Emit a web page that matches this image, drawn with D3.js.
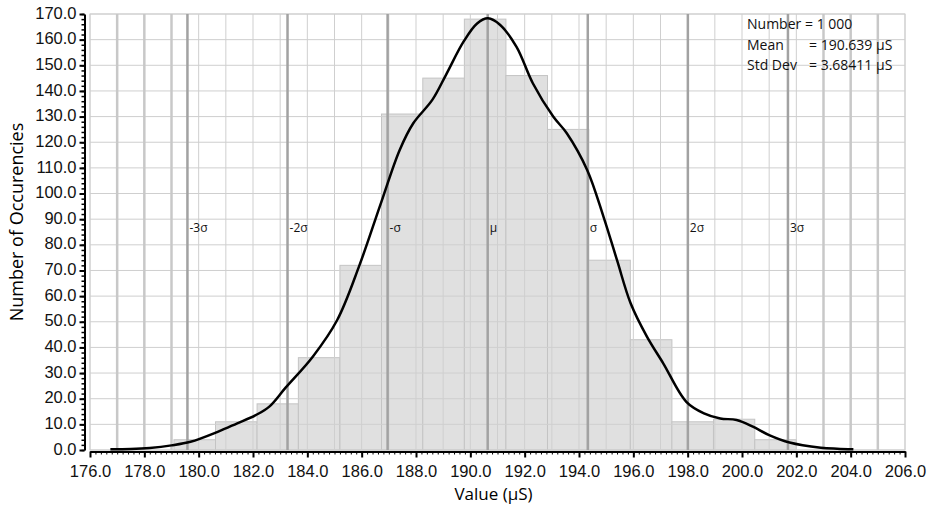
<!DOCTYPE html>
<html lang="en">
<head>
    <script src="https://d3js.org/d3.v7.min.js"></script>
    <style>
        body {
            margin: 0;
            font-family: 'Open Sans', Arial, sans-serif;
            background: #fff;
        }
        .axis text {
            font-size: 16.5px;
            fill: #111;
        }
        .axis path, .axis line {
            stroke: #000;
        }
        .bar {
            fill: #e0e0e0;
            stroke: #c4c4c4;
            stroke-width: 1px;
        }
        .grid line {
            stroke: #cfcfcf;
            stroke-width: 1px;
        }
        .sig-label {
            font-size: 12px;
            fill: #111;
        }
        .stats {
            font-size: 14px;
            fill: #111;
        }
    </style>
</head>
<body>
<script>
    // histogram bin edges and counts (1000 samples)
    var binEdges = [179.09, 180.62, 182.15, 183.67, 185.20, 186.73, 188.25, 189.78,
                    191.31, 192.84, 194.36, 195.89, 197.42, 198.95, 200.47, 202.00];
    var binCounts = [4, 11, 18, 36, 72, 131, 145, 168, 146, 125, 74, 43, 11, 12, 4];

    // density curve
    var curveX = [176.75, 177.5, 178.2, 179.0, 179.7, 180.7, 181.4, 182.1, 182.6, 183.2, 184.2,
                  185.1, 185.9, 186.7, 187.4, 187.9, 188.6, 189.1, 189.75, 190.25, 190.65,
                  191.1, 191.7, 192.3, 193.05, 193.55, 194.3, 194.9, 195.4, 195.9, 196.5,
                  197.1, 197.95, 198.6, 199.2, 199.8, 200.4, 201.0, 201.75, 202.9, 203.5, 204.1];
    var curveY = [0.3, 0.4, 0.8, 1.8, 3.2, 7.1, 10.3, 13.6, 16.9, 24.3, 36.4,
                  50.7, 71.5, 96.0, 117.0, 127.4, 136.5, 146.2, 159.2, 166.3, 168.3,
                  165.7, 157.2, 143.0, 130.0, 123.5, 109.2, 91.0, 74.0, 57.2, 44.2,
                  33.8, 18.8, 14.3, 12.3, 11.7, 9.1, 5.8, 2.9, 0.9, 0.5, 0.3];

    var mean = 190.639;
    var stdDev = 3.68411;
    var sigmaK = [-3, -2, -1, 0, 1, 2, 3];
    var sigmaNames = ["-3σ", "-2σ", "-σ", "μ", "σ", "2σ", "3σ"];

    // light limit lines outside the data range
    var limitLines = [177, 178, 179, 203, 204, 205];

    var statLabels = ["Number", "Mean", "Std Dev"];
    var statValues = ["= 1 000", "= 190.639 µS", "= 3.68411 µS"];

    var xTicks = d3.range(176, 206.01, 2);
    var yTicks = d3.range(0, 170.01, 10);

    var W = 933, H = 508;
    var plot = {left: 90, right: 905, top: 14, bottom: 450};

    var svg = d3.select("body").append("svg")
        .attr("width", W)
        .attr("height", H);

    var x = d3.scaleLinear().domain([176, 206]).range([plot.left, plot.right]);
    var y = d3.scaleLinear().domain([0, 170]).range([plot.bottom, plot.top]);

    // plot frame
    svg.append("rect")
        .attr("x", plot.left).attr("y", plot.top)
        .attr("width", plot.right - plot.left)
        .attr("height", plot.bottom - plot.top)
        .attr("fill", "#fff")
        .attr("stroke", "#cfcfcf");

    // bars
    svg.selectAll(".bar")
        .data(binCounts)
        .enter().append("rect")
        .attr("class", "bar")
        .attr("x", function(d, i) { return x(binEdges[i]); })
        .attr("y", function(d) { return y(d); })
        .attr("width", function(d, i) { return x(binEdges[i + 1]) - x(binEdges[i]); })
        .attr("height", function(d) { return y(0) - y(d); });

    // grid on top of bars
    var grid = svg.append("g").attr("class", "grid");
    grid.selectAll(".gx")
        .data(d3.range(176, 206.01, 1))
        .enter().append("line")
        .attr("x1", function(d) { return x(d); })
        .attr("x2", function(d) { return x(d); })
        .attr("y1", plot.top).attr("y2", plot.bottom);
    grid.selectAll(".gy")
        .data(yTicks)
        .enter().append("line")
        .attr("x1", plot.left).attr("x2", plot.right)
        .attr("y1", function(d) { return y(d); })
        .attr("y2", function(d) { return y(d); });

    svg.selectAll(".limit")
        .data(limitLines)
        .enter().append("line")
        .attr("x1", function(d) { return x(d); })
        .attr("x2", function(d) { return x(d); })
        .attr("y1", plot.top).attr("y2", plot.bottom)
        .attr("stroke", "#c8c8c8")
        .attr("stroke-width", 2.5);

    // sigma lines
    svg.selectAll(".sig")
        .data(sigmaK)
        .enter().append("line")
        .attr("x1", function(d) { return x(mean + d * stdDev); })
        .attr("x2", function(d) { return x(mean + d * stdDev); })
        .attr("y1", plot.top).attr("y2", plot.bottom)
        .attr("stroke", "#a2a2a2")
        .attr("stroke-width", 2.5);

    svg.selectAll(".sig-label")
        .data(sigmaK)
        .enter().append("text")
        .attr("class", "sig-label")
        .attr("x", function(d) { return x(mean + d * stdDev) + 2; })
        .attr("y", y(85))
        .text(function(d, i) { return sigmaNames[i]; });

    // density curve
    var line = d3.line()
        .x(function(d) { return x(d); })
        .y(function(d, i) { return y(curveY[i]); })
        .curve(d3.curveCatmullRom);
    svg.append("path")
        .datum(curveX)
        .attr("d", line)
        .attr("fill", "none")
        .attr("stroke", "#000")
        .attr("stroke-width", 2.5);

    // axes
    var yAxis = svg.append("g")
        .attr("class", "axis")
        .attr("transform", "translate(84.5,0)")
        .call(d3.axisLeft(y).tickValues(yTicks).tickFormat(d3.format(".1f"))
            .tickSize(5).tickSizeOuter(0).tickPadding(3));
    yAxis.select(".domain").attr("stroke-width", 2);
    yAxis.selectAll(".tick line").attr("stroke-width", 2);
    yAxis.selectAll(".tick text").attr("dy", "0.25em");
    svg.append("g")
        .attr("class", "axis")
        .attr("transform", "translate(84.5,0)")
        .call(d3.axisLeft(y).tickValues(d3.range(0, 170.01, 2)).tickFormat("").tickSize(3).tickSizeOuter(0))
        .call(function(g) { g.select(".domain").remove(); })
        .selectAll(".tick line").attr("stroke-width", 1.5);

    var xAxis = svg.append("g")
        .attr("class", "axis")
        .attr("transform", "translate(0,451.5)")
        .call(d3.axisBottom(x).tickValues(xTicks).tickFormat(d3.format(".1f"))
            .tickSize(6).tickSizeOuter(0).tickPadding(8));
    xAxis.select(".domain").attr("stroke-width", 2);
    xAxis.selectAll(".tick line").attr("stroke-width", 2);
    svg.append("g")
        .attr("class", "axis")
        .attr("transform", "translate(0,451.5)")
        .call(d3.axisBottom(x).tickValues(d3.range(176, 206.01, 0.2)).tickFormat("").tickSize(3).tickSizeOuter(0))
        .call(function(g) { g.select(".domain").remove(); })
        .selectAll(".tick line").attr("stroke-width", 1);

    // axis titles
    svg.append("text")
        .attr("x", 493.5)
        .attr("y", 500)
        .attr("text-anchor", "middle")
        .style("font-size", "17px")
        .text("Value (µS)");

    svg.append("text")
        .attr("transform", "translate(23,222) rotate(-90)")
        .attr("text-anchor", "middle")
        .style("font-size", "18px")
        .text("Number of Occurencies");

    // stats box
    statLabels.forEach(function(s, i) {
        svg.append("text").attr("class", "stats")
            .attr("x", 747).attr("y", 29 + i * 20.5)
            .text(s);
        svg.append("text").attr("class", "stats")
            .attr("x", i === 0 ? 805 : 809).attr("y", 29 + i * 20.5)
            .text(statValues[i]);
    });
</script>
</body>
</html>
